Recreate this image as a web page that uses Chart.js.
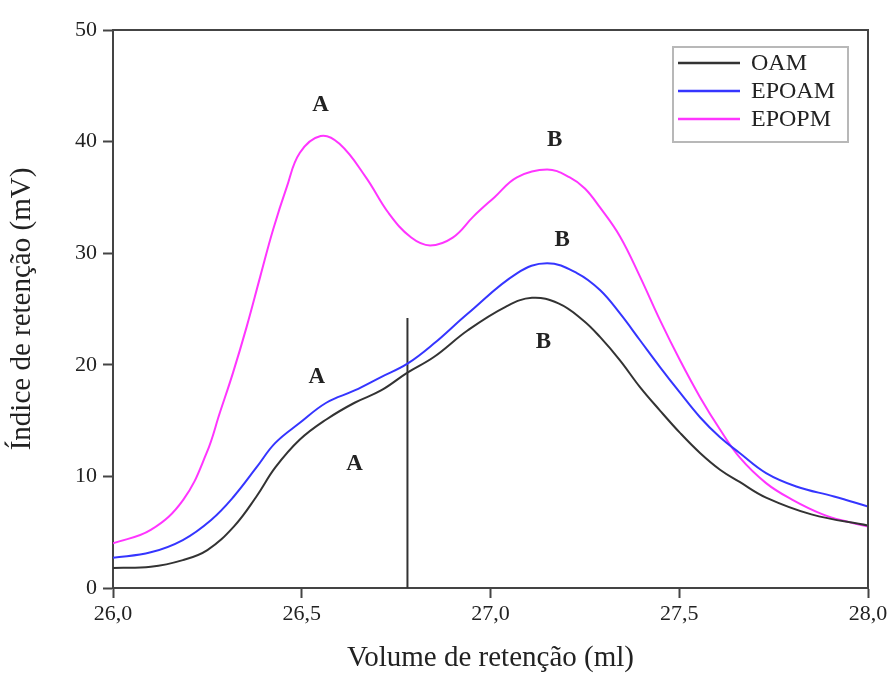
<!DOCTYPE html>
<html>
<head>
<meta charset="utf-8">
<script src="https://cdn.jsdelivr.net/npm/chart.js@4/dist/chart.umd.min.js"></script>
<style>
  html, body { margin: 0; padding: 0; background: #ffffff; }
  #wrap { width: 892px; height: 673px; }
</style>
</head>
<body>
<div id="wrap"><canvas id="c" width="892" height="673"></canvas></div>
<script>
// Retention volume (ml) and detector signal (mV) for each sample
const oamX   = [26.0, 26.10, 26.185, 26.25, 26.32, 26.38, 26.43, 26.495, 26.565, 26.64, 26.71, 26.78, 26.85, 26.94, 27.04, 27.11, 27.18, 27.245, 27.29, 27.343, 27.396, 27.449, 27.502, 27.555, 27.608, 27.66, 27.73, 27.85, 28.0];
const oamY   = [1.8, 1.9, 2.5, 3.4, 5.5, 8.2, 10.8, 13.3, 15.1, 16.6, 17.7, 19.3, 20.7, 23.1, 25.2, 26.0, 25.5, 24.0, 22.5, 20.4, 18.0, 15.9, 13.9, 12.1, 10.6, 9.5, 8.1, 6.6, 5.6];

const epoamX = [26.0, 26.10, 26.185, 26.26, 26.32, 26.38, 26.43, 26.495, 26.565, 26.64, 26.71, 26.78, 26.85, 26.94, 27.07, 27.15, 27.23, 27.29, 27.343, 27.396, 27.449, 27.502, 27.555, 27.608, 27.66, 27.73, 27.81, 27.91, 28.0];
const epoamY = [2.7, 3.2, 4.3, 6.1, 8.2, 10.8, 13.0, 14.8, 16.6, 17.7, 18.9, 20.1, 21.9, 24.6, 28.2, 29.1, 28.2, 26.7, 24.6, 22.2, 19.8, 17.5, 15.3, 13.5, 12.1, 10.3, 9.1, 8.2, 7.3];

const epopmX = [26.0, 26.10, 26.186, 26.248, 26.283, 26.318, 26.354, 26.39, 26.424, 26.46, 26.495, 26.55, 26.60, 26.67, 26.73, 26.79, 26.84, 26.90, 26.955, 27.01, 27.07, 27.15, 27.21, 27.25, 27.29, 27.343, 27.396, 27.449, 27.502, 27.555, 27.608, 27.66, 27.73, 27.80, 27.88, 27.95, 28.0];
const epopmY = [4.0, 5.2, 7.9, 12.1, 15.7, 19.3, 23.4, 27.9, 32.1, 35.9, 39.0, 40.5, 39.8, 36.8, 33.6, 31.4, 30.7, 31.4, 33.3, 35.0, 36.8, 37.5, 36.8, 35.8, 34.1, 31.5, 27.9, 24.0, 20.4, 17.1, 14.2, 11.7, 9.4, 7.9, 6.6, 5.9, 5.5];

// Marker separating the A and B regions
const dividerX = [26.78, 26.78];
const dividerY = [0, 24.2];

// Peak annotations
const peakText = ['A', 'B', 'B', 'B', 'A', 'A'];
const peakX    = [26.55, 27.17, 27.19, 27.14, 26.54, 26.64];
const peakY    = [43.3, 40.1, 31.2, 22.0, 18.9, 11.1];

const xTicks = [26.0, 26.5, 27.0, 27.5, 28.0];
const yTicks = [0, 10, 20, 30, 40, 50];

const seriesNames = ['OAM', 'EPOAM', 'EPOPM'];

const pts = (xs, ys) => xs.map((x, i) => ({ x: x, y: ys[i] }));
const serif = '"Liberation Serif", "DejaVu Serif", serif';
const inkColor = '#222222';

const framePlugin = {
  id: 'frame',
  afterDraw(chart) {
    const { ctx, chartArea: a } = chart;
    ctx.save();
    ctx.strokeStyle = '#444444';
    ctx.lineWidth = 2;
    ctx.beginPath();
    ctx.moveTo(a.left, a.top);
    ctx.lineTo(a.right, a.top);
    ctx.lineTo(a.right, a.bottom);
    ctx.stroke();
    ctx.restore();
  }
};

const peakLabels = {
  id: 'peakLabels',
  afterDatasetsDraw(chart) {
    const { ctx, scales } = chart;
    ctx.save();
    ctx.fillStyle = inkColor;
    ctx.font = 'bold 23px ' + serif;
    ctx.textAlign = 'center';
    ctx.textBaseline = 'middle';
    peakText.forEach((t, i) => {
      ctx.fillText(t, scales.x.getPixelForValue(peakX[i]), scales.y.getPixelForValue(peakY[i]));
    });
    ctx.restore();
  }
};

const boxLegend = {
  id: 'boxLegend',
  afterDraw(chart) {
    const { ctx, chartArea: a } = chart;
    const bx = a.right - 195, by = a.top + 17, bw = 175, bh = 95;
    ctx.save();
    ctx.fillStyle = '#ffffff';
    ctx.fillRect(bx, by, bw, bh);
    ctx.strokeStyle = '#b8b8b8';
    ctx.lineWidth = 2;
    ctx.strokeRect(bx, by, bw, bh);
    ctx.font = '24px ' + serif;
    ctx.textBaseline = 'middle';
    ctx.textAlign = 'left';
    seriesNames.forEach((name, i) => {
      const ds = chart.data.datasets[i];
      const yy = by + 16 + i * 28;
      ctx.strokeStyle = ds.borderColor;
      ctx.lineWidth = 2.5;
      ctx.beginPath();
      ctx.moveTo(bx + 5, yy);
      ctx.lineTo(bx + 67, yy);
      ctx.stroke();
      ctx.fillStyle = inkColor;
      ctx.fillText(name, bx + 78, yy + 1);
    });
    ctx.restore();
  }
};

new Chart(document.getElementById('c'), {
  type: 'line',
  data: {
    datasets: [
      { label: seriesNames[0], data: pts(oamX, oamY),     borderColor: '#333333', borderWidth: 2 },
      { label: seriesNames[1], data: pts(epoamX, epoamY), borderColor: '#3535ff', borderWidth: 2 },
      { label: seriesNames[2], data: pts(epopmX, epopmY), borderColor: '#ff35ff', borderWidth: 2 },
      { label: 'divider', data: pts(dividerX, dividerY), borderColor: '#333333', borderWidth: 2, tension: 0 }
    ]
  },
  options: {
    responsive: false,
    animation: false,
    devicePixelRatio: 1,
    layout: { padding: { top: 30, right: 24, left: 0, bottom: 0 } },
    elements: {
      point: { radius: 0 },
      line: { tension: 0.4, fill: false }
    },
    plugins: {
      legend: { display: false },
      tooltip: { enabled: false }
    },
    scales: {
      x: {
        type: 'linear',
        min: 26, max: 28,
        afterBuildTicks: (s) => { s.ticks = xTicks.map(v => ({ value: v })); },
        afterFit: (s) => { s.height = 85; },
        grid: { drawOnChartArea: false, drawTicks: true, tickLength: 10, tickColor: '#444444', tickWidth: 2 },
        border: { display: true, color: '#444444', width: 2 },
        ticks: {
          color: inkColor,
          font: { family: serif, size: 22 },
          padding: 3,
          maxRotation: 0,
          callback: (v) => v.toFixed(1).replace('.', ',')
        },
        title: {
          display: true,
          text: 'Volume de retenção (ml)',
          color: inkColor,
          font: { family: serif, size: 29, lineHeight: 1.0 },
          padding: { top: 4, bottom: 0 }
        }
      },
      y: {
        type: 'linear',
        min: 0, max: 50,
        afterBuildTicks: (s) => { s.ticks = yTicks.map(v => ({ value: v })); },
        afterFit: (s) => { s.width = 113; },
        grid: { drawOnChartArea: false, drawTicks: true, tickLength: 10, tickColor: '#444444', tickWidth: 2 },
        border: { display: true, color: '#444444', width: 2 },
        ticks: {
          color: inkColor,
          font: { family: serif, size: 22 },
          padding: 6
        },
        title: {
          display: true,
          text: 'Índice de retenção (mV)',
          color: inkColor,
          font: { family: serif, size: 29 },
          padding: { top: 5, bottom: 0 }
        }
      }
    }
  },
  plugins: [framePlugin, peakLabels, boxLegend]
});
</script>
</body>
</html>
